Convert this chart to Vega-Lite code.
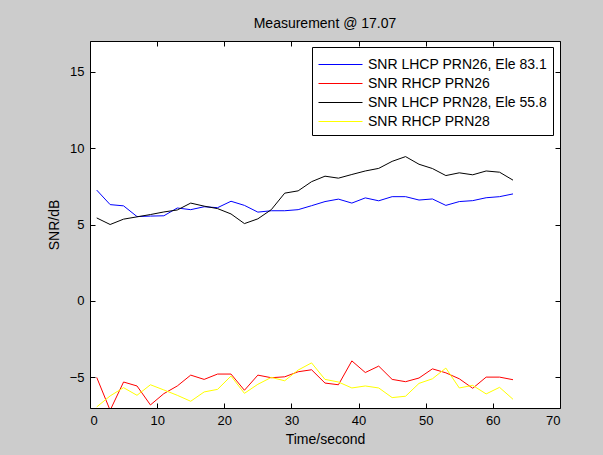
{
  "$schema": "https://vega.github.io/schema/vega-lite/v6.json",
  "width": 470,
  "height": 367,
  "autosize": {"type": "none"},
  "padding": {"left": 90, "top": 41, "right": 43, "bottom": 47},
  "background": "#cccccc",
  "title": {"text": "Measurement @ 17.07", "fontSize": 14, "font": "Liberation Sans", "fontWeight": "normal", "color": "black", "offset": 10, "anchor": "middle"},
  "data": {"values": [
    {"t": 1, "b": 7.25, "r": -5.0, "k": 5.43, "y": -6.93},
    {"t": 3, "b": 6.3, "r": -7.15, "k": 5.0, "y": -6.21},
    {"t": 5, "b": 6.22, "r": -5.3, "k": 5.35, "y": -5.67},
    {"t": 7, "b": 5.52, "r": -5.56, "k": 5.5, "y": -6.17},
    {"t": 9, "b": 5.55, "r": -6.8, "k": 5.65, "y": -5.48},
    {"t": 11, "b": 5.57, "r": -6.06, "k": 5.82, "y": -5.82},
    {"t": 13, "b": 6.08, "r": -5.56, "k": 5.95, "y": -6.17},
    {"t": 15, "b": 5.97, "r": -4.85, "k": 6.4, "y": -6.56},
    {"t": 17, "b": 6.16, "r": -5.13, "k": 6.2, "y": -5.95},
    {"t": 19, "b": 6.1, "r": -4.78, "k": 6.04, "y": -5.78},
    {"t": 21, "b": 6.52, "r": -4.78, "k": 5.69, "y": -4.91},
    {"t": 23, "b": 6.25, "r": -5.84, "k": 5.06, "y": -6.04},
    {"t": 25, "b": 5.81, "r": -4.85, "k": 5.37, "y": -5.45},
    {"t": 27, "b": 5.9, "r": -5.02, "k": 5.97, "y": -5.0},
    {"t": 29, "b": 5.9, "r": -4.96, "k": 7.05, "y": -5.22},
    {"t": 31, "b": 5.97, "r": -4.63, "k": 7.2, "y": -4.52},
    {"t": 33, "b": 6.23, "r": -4.5, "k": 7.8, "y": -4.05},
    {"t": 35, "b": 6.5, "r": -5.37, "k": 8.16, "y": -5.13},
    {"t": 37, "b": 6.66, "r": -5.48, "k": 8.03, "y": -5.3},
    {"t": 39, "b": 6.4, "r": -3.92, "k": 8.27, "y": -5.69},
    {"t": 41, "b": 6.74, "r": -4.68, "k": 8.5, "y": -5.56},
    {"t": 43, "b": 6.55, "r": -4.26, "k": 8.67, "y": -5.69},
    {"t": 45, "b": 6.82, "r": -5.13, "k": 9.13, "y": -6.32},
    {"t": 47, "b": 6.82, "r": -5.28, "k": 9.44, "y": -6.23},
    {"t": 49, "b": 6.6, "r": -5.04, "k": 8.94, "y": -5.39},
    {"t": 51, "b": 6.67, "r": -4.44, "k": 8.66, "y": -5.09},
    {"t": 53, "b": 6.25, "r": -4.7, "k": 8.2, "y": -4.39},
    {"t": 55, "b": 6.5, "r": -5.09, "k": 8.38, "y": -5.69},
    {"t": 57, "b": 6.56, "r": -5.71, "k": 8.25, "y": -5.52},
    {"t": 59, "b": 6.75, "r": -4.98, "k": 8.5, "y": -6.08},
    {"t": 61, "b": 6.82, "r": -4.98, "k": 8.42, "y": -5.65},
    {"t": 63, "b": 7.0, "r": -5.15, "k": 7.9, "y": -6.43}
  ]},
  "transform": [{"fold": ["b", "r", "k", "y"], "as": ["s", "v"]}],
  "layer": [
    {
      "mark": {"type": "line", "clip": true, "strokeWidth": 1},
      "encoding": {
        "x": {"field": "t", "type": "quantitative", "scale": {"domain": [0, 70], "nice": false, "zero": false},
              "axis": {"orient": "bottom", "values": [0, 10, 20, 30, 40, 50, 60, 70], "title": "Time/second", "titlePadding": 5}},
        "y": {"field": "v", "type": "quantitative", "scale": {"domain": [-7, 17], "nice": false, "zero": false},
              "axis": {"orient": "left", "values": [-5, 0, 5, 10, 15], "title": "SNR/dB", "titlePadding": 8}},
        "color": {"field": "s", "type": "nominal", "sort": ["b", "r", "k", "y"],
                  "scale": {"domain": ["b", "r", "k", "y"], "range": ["#0000ff", "#ff0000", "#000000", "#ffff00"]},
                  "legend": {
                    "title": null,
                    "orient": "none",
                    "legendX": 222,
                    "legendY": 6,
                    "labelExpr": "datum.label == 'b' ? 'SNR LHCP PRN26, Ele 83.1' : datum.label == 'r' ? 'SNR RHCP PRN26' : datum.label == 'k' ? 'SNR LHCP PRN28, Ele 55.8' : 'SNR RHCP PRN28'",
                    "symbolType": "M-2,0H2",
                    "symbolSize": 484,
                    "symbolStrokeWidth": 1,
                    "symbolOffset": 11,
                    "fillColor": "white",
                    "strokeColor": "black",
                    "padding": 6,
                    "labelOffset": 16,
                    "labelFontSize": 14,
                    "labelFont": "Liberation Sans",
                    "labelColor": "black",
                    "labelLimit": 0,
                    "rowPadding": 0
                  }}
      }
    },
    {
      "mark": {"type": "point", "opacity": 0},
      "encoding": {
        "x": {"field": "t", "type": "quantitative", "scale": {"domain": [0, 70], "nice": false, "zero": false},
              "axis": {"orient": "top", "values": [0, 10, 20, 30, 40, 50, 60, 70], "labels": false, "title": null}},
        "y": {"field": "v", "type": "quantitative", "scale": {"domain": [-7, 17], "nice": false, "zero": false},
              "axis": {"orient": "right", "values": [-5, 0, 5, 10, 15], "labels": false, "title": null}}
      }
    }
  ],
  "resolve": {"axis": {"x": "independent", "y": "independent"}},
  "config": {
    "view": {"fill": "white", "stroke": "black", "strokeWidth": 1},
    "axis": {
      "grid": false,
      "domain": false,
      "tickSize": -5,
      "tickColor": "black",
      "tickWidth": 1,
      "labelPadding": 11,
      "labelFont": "Liberation Sans",
      "labelFontSize": 13,
      "labelColor": "black",
      "titleFont": "Liberation Sans",
      "titleFontSize": 14,
      "titleFontWeight": "normal",
      "titleColor": "black"
    }
  }
}
